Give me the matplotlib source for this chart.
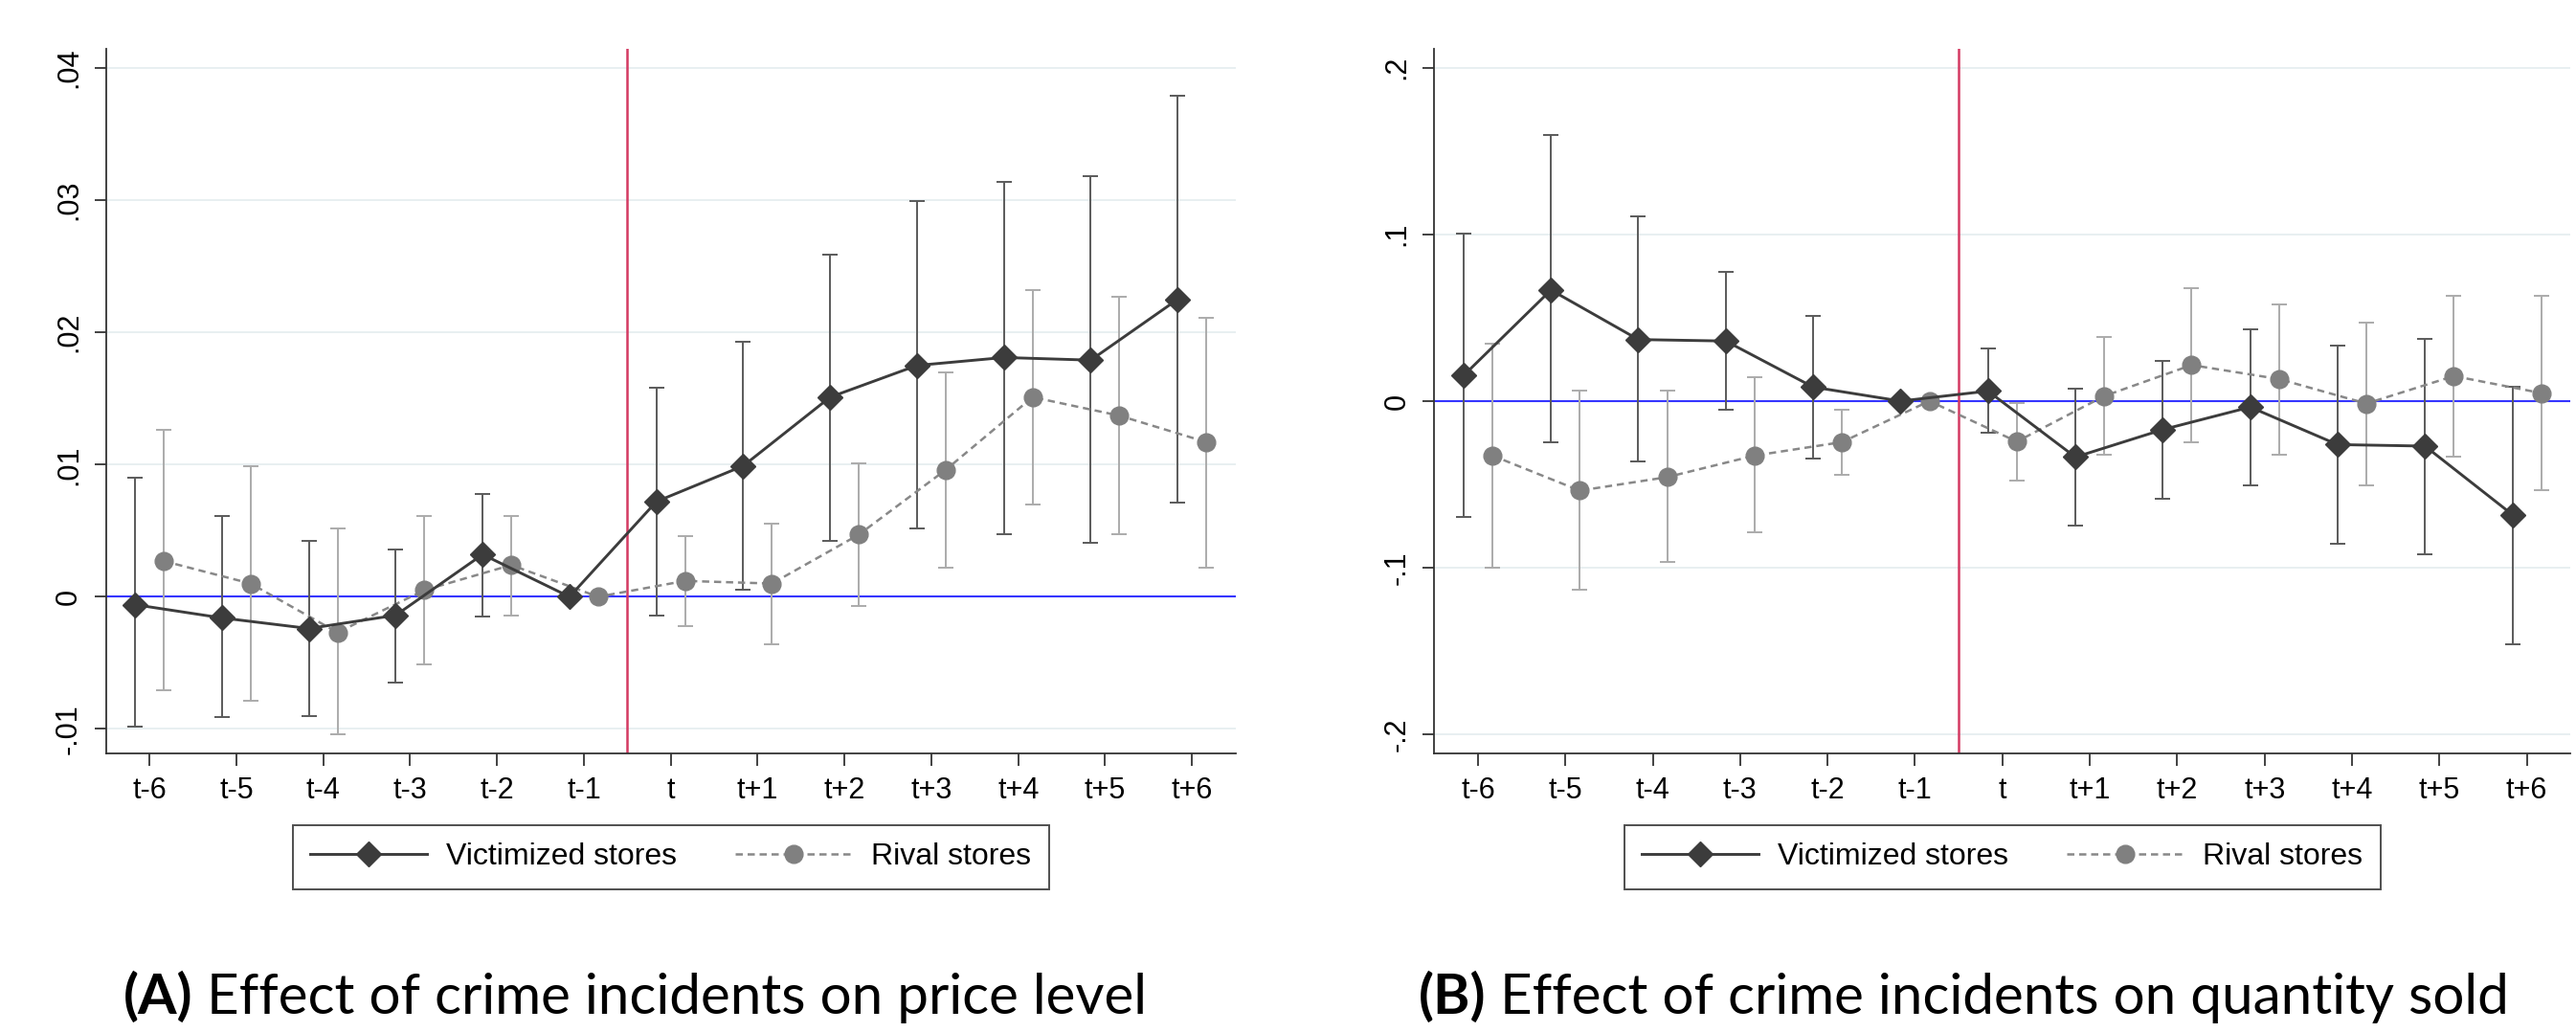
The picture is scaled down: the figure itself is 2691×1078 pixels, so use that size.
import numpy as np
import matplotlib
matplotlib.use("Agg")
import matplotlib.pyplot as plt

plt.rcParams['font.family'] = ['Liberation Sans', 'DejaVu Sans']

periods = ['t-6', 't-5', 't-4', 't-3', 't-2', 't-1', 't',
           't+1', 't+2', 't+3', 't+4', 't+5', 't+6']
nan = np.nan

# Panel A: price level
price_vict = [-0.0006, -0.0016, -0.0024, -0.0014, 0.0032, 0.0, 0.0072,
              0.0099, 0.0151, 0.0175, 0.0181, 0.0179, 0.0225]
price_vict_lo = [-0.0098, -0.0091, -0.0090, -0.0065, -0.0015, nan, -0.0014,
                 0.0005, 0.0042, 0.0052, 0.0047, 0.0041, 0.0071]
price_vict_hi = [0.0090, 0.0061, 0.0042, 0.0036, 0.0078, nan, 0.0158,
                 0.0193, 0.0259, 0.0299, 0.0314, 0.0318, 0.0379]
price_rival = [0.0027, 0.0010, -0.0027, 0.0005, 0.0024, 0.0, 0.0012,
               0.0010, 0.0047, 0.0096, 0.0151, 0.0137, 0.0117]
price_rival_lo = [-0.0071, -0.0079, -0.0104, -0.0051, -0.0014, nan, -0.0022,
                  -0.0036, -0.0007, 0.0022, 0.0070, 0.0047, 0.0022]
price_rival_hi = [0.0126, 0.0099, 0.0052, 0.0061, 0.0061, nan, 0.0046,
                  0.0055, 0.0101, 0.0170, 0.0232, 0.0227, 0.0211]

# Panel B: quantity sold
qty_vict = [0.0153, 0.0666, 0.0369, 0.0360, 0.0084, 0.0, 0.0060,
            -0.0336, -0.0171, -0.0036, -0.0261, -0.0270, -0.0681]
qty_vict_lo = [-0.0696, -0.0249, -0.0360, -0.0051, -0.0342, nan, -0.0188,
               -0.0747, -0.0585, -0.0504, -0.0858, -0.0921, -0.1458]
qty_vict_hi = [0.1002, 0.1593, 0.1107, 0.0777, 0.0510, nan, 0.0318,
               0.0072, 0.0240, 0.0429, 0.0333, 0.0372, 0.0087]
qty_rival = [-0.0327, -0.0537, -0.0456, -0.0327, -0.0246, 0.0, -0.0243,
             0.0030, 0.0216, 0.0132, -0.0015, 0.0150, 0.0048]
qty_rival_lo = [-0.1002, -0.1131, -0.0966, -0.0789, -0.0441, nan, -0.0477,
                -0.0324, -0.0246, -0.0321, -0.0504, -0.0336, -0.0537]
qty_rival_hi = [0.0345, 0.0060, 0.0060, 0.0144, -0.0051, nan, -0.0012,
                0.0384, 0.0675, 0.0582, 0.0471, 0.0633, 0.0630]

price_ticks = [-0.01, 0, 0.01, 0.02, 0.03, 0.04]
price_ticklabels = ['-.01', '0', '.01', '.02', '.03', '.04']
qty_ticks = [-0.2, -0.1, 0, 0.1, 0.2]
qty_ticklabels = ['-.2', '-.1', '0', '.1', '.2']

VICT = '#3c3c3c'
VICT_BAR = '#5a5a5a'
RIVAL = '#808080'
RIVAL_BAR = '#ababab'
SPINE = '#333333'


def errbars(ax, x, coef, lo, hi, color):
    coef, lo, hi = np.array(coef), np.array(lo), np.array(hi)
    ok = ~np.isnan(lo)
    ax.errorbar(x[ok], coef[ok], yerr=[coef[ok] - lo[ok], hi[ok] - coef[ok]],
                fmt='none', ecolor=color, elinewidth=1.4, capsize=5.8,
                capthick=1.4, zorder=3)


def draw_panel(ax, vict, vlo, vhi, rival, rlo, rhi, ticks, ticklabels, ylim):
    x = np.arange(len(periods))
    xv = x - 0.165
    xr = x + 0.165

    for t in ticks:
        ax.axhline(t, color='#e6eef0', lw=1.3, zorder=0)
    ax.axhline(0, color='#3535ff', lw=1.5, zorder=1)
    ax.axvline(5.5, color='#d43a62', lw=1.8, zorder=1)

    errbars(ax, xv, vict, vlo, vhi, VICT_BAR)
    errbars(ax, xr, rival, rlo, rhi, RIVAL_BAR)

    ax.plot(xv, vict, color=VICT, lw=2.1, marker='D', markersize=13,
            markerfacecolor=VICT, markeredgecolor=VICT, zorder=5,
            label='Victimized stores')
    ax.plot(xr, rival, color='#888888', lw=1.8, linestyle=(0, (3.0, 2.0)),
            marker='o', markersize=13.5, markerfacecolor=RIVAL,
            markeredgecolor=RIVAL, zorder=4, label='Rival stores')

    ax.set_xlim(-0.5, 12.5)
    ax.set_ylim(*ylim)
    ax.set_xticks(x)
    ax.set_xticklabels(periods, fontsize=22)
    ax.set_yticks(ticks)
    ax.set_yticklabels(ticklabels, fontsize=22, rotation=90, va='center')
    ax.tick_params(axis='both', length=9, width=1.3, color=SPINE, pad=8)
    for side in ['top', 'right']:
        ax.spines[side].set_visible(False)
    for side in ['left', 'bottom']:
        ax.spines[side].set_color(SPINE)
        ax.spines[side].set_linewidth(1.3)

    leg = ax.legend(loc='center', ncol=2, fontsize=23, frameon=True,
                    fancybox=False, edgecolor='#222222', borderpad=0.58,
                    handlelength=3.8, handletextpad=0.65, columnspacing=1.9,
                    numpoints=1, bbox_to_anchor=(0.5, -0.147),
                    bbox_transform=ax.transAxes)
    leg.get_frame().set_linewidth(1.4)


fig = plt.figure(figsize=(26.91, 10.78), dpi=100)
ax1 = fig.add_axes([0.04114, 0.26994, 0.43846, 0.68302])
ax2 = fig.add_axes([0.55678, 0.26994, 0.44110, 0.68302])

draw_panel(ax1, price_vict, price_vict_lo, price_vict_hi,
           price_rival, price_rival_lo, price_rival_hi,
           price_ticks, price_ticklabels, (-0.01185, 0.04147))
draw_panel(ax2, qty_vict, qty_vict_lo, qty_vict_hi,
           qty_rival, qty_rival_lo, qty_rival_hi,
           qty_ticks, qty_ticklabels, (-0.2113, 0.2114))

# captions with a bold panel letter
fig.canvas.draw()
renderer = fig.canvas.get_renderer()
captions = [(128.6, '(A)', ' Effect of crime incidents on price level'),
            (1482.0, '(B)', ' Effect of crime incidents on quantity sold')]
for x0, letter, rest in captions:
    t1 = fig.text(x0 / 2691, 0.0175, letter, fontsize=42, fontweight='bold',
                  family='Lato', va='baseline', ha='left')
    bb = t1.get_window_extent(renderer)
    fig.text(bb.x1 / fig.bbox.width, 0.0175, rest, fontsize=42,
             family='Lato', va='baseline', ha='left')

fig.savefig('out.png', dpi=100)
